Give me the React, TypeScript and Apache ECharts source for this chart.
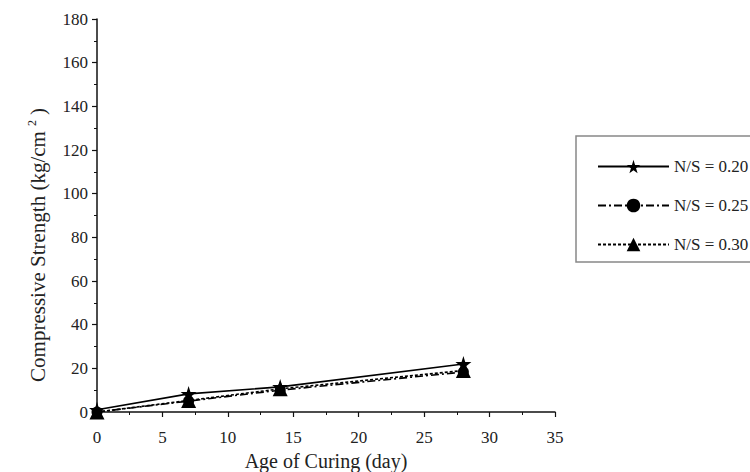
import React, { useEffect, useRef } from "react";
import * as echarts from "echarts";

const seriesNames = ["N/S = 0.20", "N/S = 0.25", "N/S = 0.30"];
const ages = [0, 7, 14, 28];
const ns020 = [1, 8.3, 11.5, 22];
const ns025 = [0, 5, 10, 18.3];
const ns030 = [0, 5.3, 10.6, 19];
const yTicks = { min: 0, max: 180, interval: 20 };
const xTicks = { min: 0, max: 35, interval: 5 };

const STAR = "path://M50,0 L61,35 L98,35 L68,57 L79,91 L50,70 L21,91 L32,57 L2,35 L39,35 Z";
const FONT = "Liberation Serif, serif";

export default function App() {
  const ref = useRef<HTMLDivElement>(null);
  useEffect(() => {
    if (!ref.current) return;
    const chart = echarts.init(ref.current, undefined, { renderer: "svg" });
    const mk = (vals: number[]) => ages.map((a, i) => [a, vals[i]]);
    const styles = [
      { symbol: STAR, size: 16, dash: "solid" as any },
      { symbol: "circle", size: 11, dash: [8, 3, 2, 3] },
      { symbol: "triangle", size: 15, dash: [3, 2] },
    ];
    const data = [ns020, ns025, ns030];
    chart.setOption({
      animation: false,
      backgroundColor: "#fff",
      textStyle: { fontFamily: FONT },
      grid: { left: 97, right: 195, top: 19, bottom: 60, containLabel: false, outerBoundsMode: "none" },
      xAxis: {
        type: "value",
        min: xTicks.min,
        max: xTicks.max,
        interval: xTicks.interval,
        name: "Age of Curing (day)",
        nameLocation: "middle",
        nameGap: 35,
        nameTextStyle: { fontFamily: FONT, fontSize: 20, color: "#222" },
        axisLine: { lineStyle: { color: "#111", width: 1.5 } },
        axisTick: { show: true, length: 5, lineStyle: { color: "#111", width: 1.2 } },
        minorTick: { show: true, splitNumber: 2, length: 3, lineStyle: { color: "#111", width: 1 } },
        axisLabel: { fontFamily: FONT, fontSize: 17, color: "#222", margin: 17 },
        splitLine: { show: false },
      },
      yAxis: {
        type: "value",
        min: yTicks.min,
        max: yTicks.max,
        interval: yTicks.interval,
        axisLine: { show: true, lineStyle: { color: "#111", width: 1.5 } },
        axisTick: { show: true, length: 5, lineStyle: { color: "#111", width: 1.2 } },
        minorTick: { show: true, splitNumber: 2, length: 3, lineStyle: { color: "#111", width: 1 } },
        axisLabel: { fontFamily: FONT, fontSize: 17, color: "#222", margin: 9 },
        splitLine: { show: false },
      },
      legend: {
        orient: "vertical",
        left: 592,
        top: 153,
        itemWidth: 71,
        itemHeight: 17,
        itemGap: 22,
        textStyle: { fontFamily: FONT, fontSize: 17, color: "#222" },
        data: seriesNames,
      },
      graphic: [
        {
          type: "rect",
          shape: { x: 576, y: 136, width: 200, height: 126 },
          style: { fill: "none", stroke: "#888", lineWidth: 1.5 },
          z: 0,
        },
        {
          type: "text",
          x: 38,
          y: 245,
          rotation: Math.PI / 2,
          style: {
            text: "{a|Compressive Strength (kg/cm}{b|2}{a|)}",
            align: "center",
            verticalAlign: "middle",
            rich: {
              a: { fontFamily: FONT, fontSize: 21, fill: "#222", color: "#222" },
              b: { fontFamily: FONT, fontSize: 12, fill: "#222", color: "#222", verticalAlign: "top", padding: [0, 5, 12, 5] },
            },
          },
        },
      ],
      series: seriesNames.map((name, i) => ({
        name,
        type: "line",
        data: mk(data[i]),
        symbol: styles[i].symbol,
        symbolSize: styles[i].size,
        itemStyle: { color: "#000" },
        lineStyle: { color: "#000", width: 1.6, type: styles[i].dash },
        clip: false,
        z: 3 - i,
      })),
    });
    return () => chart.dispose();
  }, []);
  return <div ref={ref} style={{ position: "absolute", left: 0, top: 0, width: 750, height: 472 }} />;
}
